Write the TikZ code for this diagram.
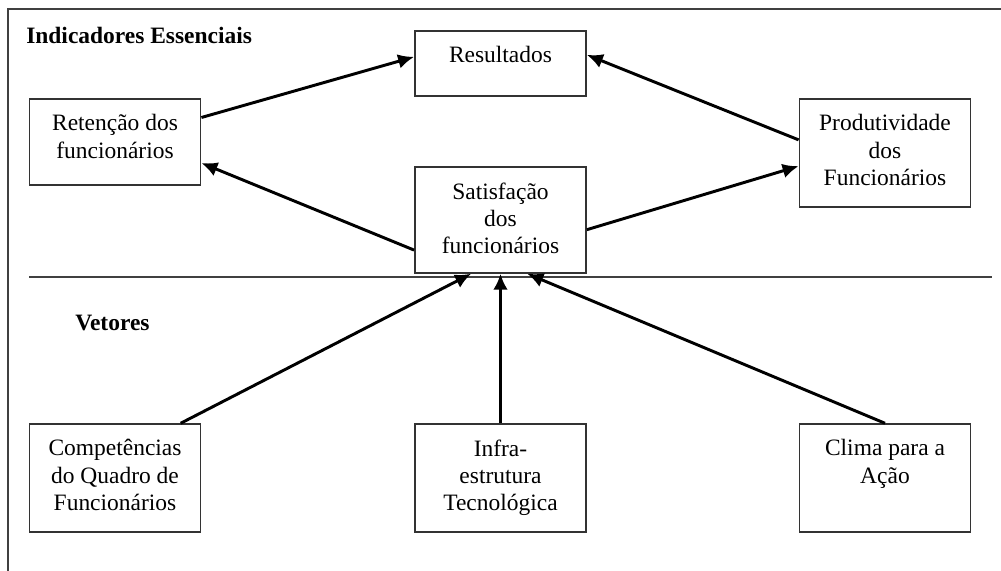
\documentclass[tikz,border=0pt]{standalone}
\usepackage{fontspec}
\setmainfont{Liberation Serif}
\usetikzlibrary{arrows.meta}
\usetikzlibrary{calc}

\begin{document}
\begin{tikzpicture}[x=0.75pt, y=-0.75pt, >={Latex[length=12pt, width=11pt]},
  caixa/.style={draw=black!80, line width=1.1pt, minimum width=128.5pt, minimum height=#1},
  caixa/.default=81pt,
  texto/.style={anchor=north, align=center, inner sep=0pt, yshift=-12pt,
    font=\fontsize{17.6}{20.6}\selectfont},
  titulo/.style={anchor=west, inner sep=0pt, font=\fontsize{17.6}{20.6}\selectfont\bfseries},
  seta/.style={->, line width=2.2pt},
  moldura/.style={draw=black!75, line width=0.9pt}]

  \useasboundingbox (0,0) rectangle (1001,571);

  % Frame and divider
  \draw[moldura] (8,571) -- (8,9) -- (1001,9);
  \draw[moldura] (29,277) -- (992,277);

  % Headings
  \node[titulo] (ind) at (26,35) {Indicadores Essenciais};
  \node[titulo] (vet) at (75,323) {Vetores};

  % Essential indicators
  \node[caixa=64.5pt, label={[texto]north:Retenção dos\\funcionários}] (ret) at (115,142) {};
  \node[caixa=48.75pt, label={[texto]north:Resultados}] (res) at (500.5,63.5) {};
  \node[caixa=79.5pt, label={[texto]north:Satisfação\\dos\\funcionários}] (sat) at (500.5,220) {};
  \node[caixa, label={[texto]north:Produtividade\\dos\\Funcionários}] (prod) at (885,153) {};

  % Drivers
  \node[caixa, label={[texto]north:Competências\\do Quadro de\\Funcionários}] (comp) at (115,478) {};
  \node[caixa, label={[texto]north:Infra-\\estrutura\\Tecnológica}] (infra) at (500.5,478) {};
  \node[caixa, label={[texto]north:Clima para a\\Ação}] (clima) at (885,478) {};

  % Connection points
  \coordinate (retA) at ($(ret.north east)!0.22!(ret.south east)$);
  \coordinate (retB) at ($(ret.north east)!0.74!(ret.south east)$);
  \coordinate (resA) at ($(res.north west)!0.40!(res.south west)$);
  \coordinate (resB) at ($(res.north east)!0.37!(res.south east)$);
  \coordinate (prodA) at ($(prod.north west)!0.38!(prod.south west)$);
  \coordinate (prodB) at ($(prod.north west)!0.62!(prod.south west)$);
  \coordinate (satA) at ($(sat.north west)!0.78!(sat.south west)$);
  \coordinate (satB) at ($(sat.north east)!0.59!(sat.south east)$);
  \coordinate (satC) at ($(sat.south west)!0.33!(sat.south east)$);
  \coordinate (satD) at ($(sat.south west)!0.655!(sat.south east)$);
  \coordinate (compA) at ($(comp.north west)!0.88!(comp.north east)$);

  \draw[seta] (retA) -- (resA);
  \draw[seta] (prodA) -- (resB);
  \draw[seta] (satA) -- (retB);
  \draw[seta] (satB) -- (prodB);

  \draw[seta] (compA) -- (satC);
  \draw[seta] (infra.north) -- (sat.south);
  \draw[seta] (clima.north) -- (satD);

\end{tikzpicture}
\end{document}
